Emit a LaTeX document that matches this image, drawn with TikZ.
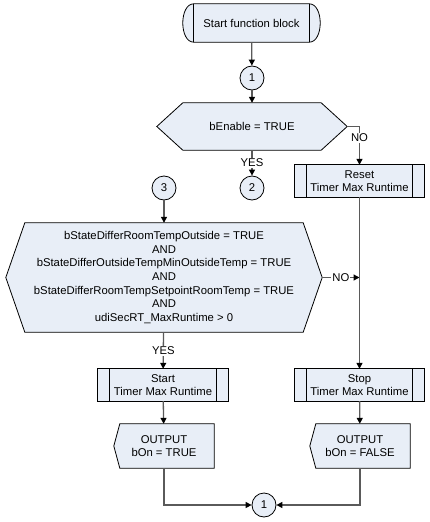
\documentclass[tikz,border=0pt]{standalone}
\usepackage{fontspec}
\setmainfont{Liberation Sans}
\usetikzlibrary{arrows.meta}
\pgfdeclarelayer{background}
\pgfsetlayers{background,main}
\definecolor{boxfill}{RGB}{232,238,247}
\definecolor{linegray}{RGB}{90,90,90}

\tikzset{
  every node/.style={font=\fontsize{11.3}{13.6}\selectfont, align=center, inner sep=0pt},
  conn/.style={draw, circle, fill=boxfill, line width=0.8pt, minimum size=24pt},
  termbox/.style={minimum width=137pt, minimum height=38pt},
  hexbox/.style={minimum width=#1},
  procbox/.style={minimum width=130pt, minimum height=32pt},
  outbox/.style={minimum width=100pt, minimum height=44pt},
  outline/.style={draw=black, fill=boxfill, line width=0.8pt},
  flow/.style={draw=linegray, line width=1.3pt, -{Triangle[length=6pt,width=6pt,color=black]}},
  lbl/.style={fill=white, inner sep=1pt}
}

\begin{document}
\begin{tikzpicture}[x=1pt,y=-1pt]
\useasboundingbox (0,0) rectangle (429,522);
% nodes
\node[termbox] (start) at (251.5,23) {Start function block};
\node[conn] (c1) at (252,78) {1};
\node[hexbox=190pt, minimum height=47pt] (enable) at (252,126.5) {bEnable = TRUE};
\node[conn] (c2) at (252,188) {2};
\node[conn] (c3) at (164,188) {3};
\node[procbox] (reset) at (359.5,181) {Reset\\Timer Max Runtime};
\node[hexbox=316pt, minimum height=109pt] (cond) at (164,277.5)
  {bStateDifferRoomTempOutside = TRUE\\AND\\bStateDifferOutsideTempMinOutsideTemp = TRUE\\AND\\bStateDifferRoomTempSetpointRoomTemp = TRUE\\AND\\udiSecRT\_MaxRuntime > 0};
\node[procbox] (starttimer) at (163,385) {Start\\Timer Max Runtime};
\node[procbox] (stoptimer) at (359.5,385) {Stop\\Timer Max Runtime};
\node[outbox] (outtrue) at (164,446) {OUTPUT\\bOn = TRUE};
\node[outbox] (outfalse) at (360,446) {OUTPUT\\bOn = FALSE};
\node[conn] (cend) at (264,505) {1};

% shapes behind the texts
\begin{pgfonlayer}{background}
\draw[outline] ([xshift=11pt]start.north west) -- ([xshift=-11pt]start.north east)
  .. controls ([xshift=3.7pt]start.north east) and ([xshift=3.7pt]start.south east) .. ([xshift=-11pt]start.south east)
  -- ([xshift=11pt]start.south west)
  .. controls ([xshift=-3.7pt]start.south west) and ([xshift=-3.7pt]start.north west) .. cycle;
\draw[line width=0.8pt] ([xshift=11pt]start.north west) -- ([xshift=11pt]start.south west);
\draw[line width=0.8pt] ([xshift=-11pt]start.north east) -- ([xshift=-11pt]start.south east);
\foreach \n/\d in {enable/26pt,cond/19pt}
\draw[outline] (\n.west) -- ([xshift=\d]\n.north west) -- ([xshift=-\d]\n.north east) -- (\n.east)
  -- ([xshift=-\d]\n.south east) -- ([xshift=\d]\n.south west) -- cycle;
\foreach \n in {reset,starttimer,stoptimer} {
\draw[outline] (\n.north west) rectangle (\n.south east);
\draw[line width=0.8pt] ([xshift=12pt]\n.north west) -- ([xshift=12pt]\n.south west);
\draw[line width=0.8pt] ([xshift=-12pt]\n.north east) -- ([xshift=-12pt]\n.south east);
}
\foreach \n in {outtrue,outfalse}
\draw[outline] (\n.north east) -- ([xshift=6pt]\n.north west) -- (\n.west)
  -- ([xshift=6pt]\n.south west) -- (\n.south east) -- cycle;
\end{pgfonlayer}

% connectors
\draw[flow] (start) -- (c1);
\draw[flow] (c1) -- (enable);
\draw[flow] (enable) -- node[lbl] {YES} (c2);
\draw[flow] (enable.east) -| node[lbl, pos=0.65] {NO} (reset);
\draw[flow] (c3) -- (cond);
\draw[flow] (cond) -- node[lbl] {YES} (starttimer);
\draw[flow] (cond.east) -- node[lbl] {NO} (cond.east -| reset.south);
\draw[flow] (reset) -- (stoptimer);
\draw[flow] (starttimer) -- (outtrue);
\draw[flow] (stoptimer) -- (outfalse);
\draw[flow] (outtrue) |- (cend);
\draw[flow] (outfalse) |- (cend);
\end{tikzpicture}
\end{document}
